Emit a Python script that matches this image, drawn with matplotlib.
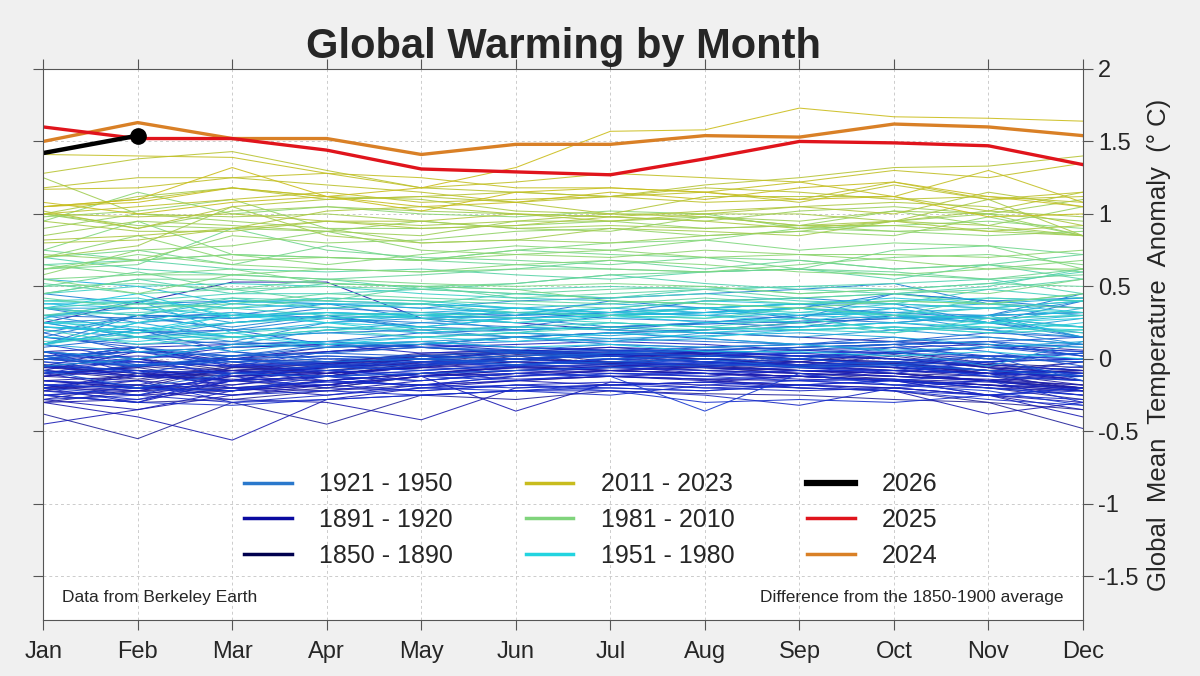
import numpy as np
import matplotlib
matplotlib.use("Agg")
import matplotlib.pyplot as plt
from matplotlib.colors import LinearSegmentedColormap
from matplotlib.lines import Line2D

# ── Data ──────────────────────────────────────────────────────────────────────
MONTHS = ['Jan', 'Feb', 'Mar', 'Apr', 'May', 'Jun',
          'Jul', 'Aug', 'Sep', 'Oct', 'Nov', 'Dec']

# monthly anomalies, hundredths of a degree C vs 1850-1900
YEARS_1850_1890 = list(range(1850, 1891))
ANOM_1850_1890 = [
    [-22, -10, -15, -20, -12, -8, -5, -6, -10, -14, -18, -20],
    [-5, 0, -8, -10, 2, 5, 3, 4, -2, 5, -3, -6],
    [-10, -6, -15, -12, -2, 3, 5, 2, 0, -4, -8, -2],
    [-8, -14, -5, -10, -6, 2, -3, -4, -8, -10, -15, -20],
    [-12, -4, -8, -3, 0, 4, 2, -2, -5, -3, -8, -12],
    [-18, -20, -6, -8, -2, 0, 4, 0, -4, -2, -10, -22],
    [-15, -18, -25, -20, -12, -5, -8, -10, -12, -15, -20, -28],
    [-25, -30, -28, -22, -18, -15, -12, -14, -20, -22, -30, -35],
    [-20, -10, -15, -12, -5, 0, -2, -5, -8, -10, -12, -15],
    [-12, -5, 0, -2, 3, 5, -2, 0, -5, -3, -10, -8],
    [-15, -20, -18, -10, -5, -2, -4, -6, -8, -10, -15, -22],
    [-28, -18, -22, -15, -10, -5, -8, -6, -10, -12, -15, -20],
    [-38, -55, -30, -45, -25, -28, -22, -24, -25, -28, -30, -48],
    [-5, -10, -12, -8, -4, 0, -3, -5, -2, -6, -10, -8],
    [-30, -22, -20, -15, -10, -12, -8, -10, -12, -15, -18, -22],
    [0, -5, -10, -4, 2, 5, 3, 0, -2, 3, -4, -8],
    [5, 0, -6, -3, 4, 6, 2, 3, 0, -2, -5, -10],
    [-8, -12, -15, -4, 2, 0, 3, 5, 2, 0, -6, -15],
    [-22, -15, -8, -5, 0, 5, 8, 4, 0, -3, -8, -12],
    [-5, 8, -4, -2, 2, 0, -3, 0, -4, 2, -6, -10],
    [-4, -8, -12, -6, 0, 4, 2, -2, -4, -6, -10, -18],
    [-20, -18, -6, -4, 0, -2, -3, -5, -8, -10, -15, -18],
    [-15, -12, -10, -6, 0, 2, 4, 2, 0, -2, -4, -8],
    [-6, -10, -8, -12, -4, 0, 2, 0, -2, -4, -10, -8],
    [-5, -12, -14, -15, -10, -6, -8, -10, -12, -14, -16, -20],
    [-18, -25, -22, -18, -12, -10, -8, -10, -12, -15, -18, -25],
    [-12, -15, -20, -18, -10, -6, -4, -8, -10, -12, -15, -20],
    [-10, -5, 0, 5, 10, 15, 18, 20, 25, 28, 30, 32],
    [25, 39, 53, 53, 28, 25, 20, 18, 15, 12, 10, 6],
    [-5, -8, -10, -6, -2, 0, 2, 0, -4, -8, -12, -20],
    [-4, -12, -8, -6, -3, 0, -2, -4, -6, -8, -10, -12],
    [-10, -6, 2, 5, 8, 4, 6, 3, 0, -4, -8, -10],
    [5, 8, -2, -10, -6, -4, 0, -2, -4, -6, -8, -15],
    [-20, -22, -12, -10, -6, -2, -4, -6, -8, -12, -14, -18],
    [-25, -22, -28, -30, -42, -20, -18, -16, -18, -20, -25, -35],
    [-30, -28, -20, -22, -15, -10, -12, -14, -15, -18, -20, -22],
    [-28, -35, -25, -18, -12, -8, -5, -10, -12, -15, -18, -22],
    [-30, -40, -56, -28, -20, -15, -12, -15, -18, -20, -25, -30],
    [-22, -25, -15, -12, -4, 0, 2, -2, -5, -8, -10, -12],
    [-8, 5, 8, 10, 12, 8, 6, 4, 2, 0, -6, -10],
    [-15, -20, -22, -18, -12, -36, -16, -18, -20, -22, -38, -30],
]

YEARS_1891_1920 = list(range(1891, 1921))
ANOM_1891_1920 = [
    [-18, -22, -12, -10, -6, -8, -10, -12, -8, -10, -15, -12],
    [-12, -8, -20, -25, -18, -15, -18, -16, -12, -15, -25, -40],
    [-45, -35, -22, -15, -18, -12, -8, -10, -14, -15, -18, -20],
    [-20, -12, -8, -15, -10, -14, -12, -10, -12, -8, -10, -15],
    [-25, -30, -15, -8, -10, -6, -8, -5, -2, -6, -10, -12],
    [-6, -2, -5, -3, 0, 5, 8, 6, 2, 4, 0, -2],
    [0, 2, 0, 8, 10, 6, 4, 2, 4, 0, -4, -8],
    [5, -10, -18, -12, -15, -10, -6, -8, -10, -12, -15, -10],
    [-10, -20, -15, -5, -4, 0, 2, 4, 6, 8, 10, 2],
    [0, 8, 10, 12, 8, 10, 12, 10, 6, 4, 2, 0],
    [5, 0, 8, 10, 4, 6, 3, 2, 0, -4, -8, -10],
    [2, 5, -5, -8, -12, -10, -12, -14, -12, -15, -20, -25],
    [-10, 0, -12, -20, -22, -18, -16, -20, -22, -20, -25, -28],
    [-28, -25, -30, -28, -25, -22, -22, -25, -32, -20, -15, -22],
    [-20, -30, -10, -12, -10, -8, -6, -8, -6, -10, -2, 0],
    [-8, -12, -15, -5, -8, -4, -6, -2, -6, -8, -10, -2],
    [-22, -28, -15, -18, -22, -18, -20, -22, -18, -15, -25, -20],
    [-18, -15, -30, -25, -20, -22, -18, -20, -18, -22, -25, -22],
    [-25, -20, -25, -22, -25, -22, -25, -18, -15, -18, -15, -30],
    [-15, -18, -20, -16, -18, -20, -18, -16, -20, -22, -28, -32],
    [-25, -30, -32, -28, -25, -22, -20, -22, -18, -15, -10, -12],
    [-10, -8, -15, -12, -20, -18, -22, -30, -28, -30, -25, -20],
    [-18, -20, -22, -15, -18, -12, -10, -10, -8, -8, -2, 0],
    [5, -2, -5, -2, 0, -4, 0, 2, 4, 5, 8, 5],
    [0, 8, -5, 5, 10, 8, 6, 5, 2, 0, -2, 4],
    [0, -2, -10, -8, -12, -15, -10, -12, -15, -14, -20, -25],
    [-18, -20, -22, -12, -15, -10, -12, -36, -10, -18, -22, -32],
    [-20, -25, -10, -12, -8, -5, -4, -3, -5, -4, -12, -5],
    [-5, -8, -10, -5, -8, -4, -2, -3, -6, -5, -12, -15],
    [-2, -5, 0, -4, -2, -5, 0, -2, -4, -2, -8, -10],
]

YEARS_1921_1950 = list(range(1921, 1951))
ANOM_1921_1950 = [
    [10, 0, 5, 0, -2, 0, 4, 2, 0, 8, 2, 4],
    [-2, -10, 0, -5, -2, -4, 0, -6, 0, -4, 2, 0],
    [0, -5, -2, -8, -5, 0, -4, 0, 2, 4, 8, 5],
    [5, -4, 0, -6, -4, 0, 2, -2, 0, -4, -2, -12],
    [-10, -5, 0, 2, 0, 4, 5, 6, 8, 10, 12, 15],
    [22, 18, 20, 10, 8, 5, 2, 6, 8, 10, 12, 2],
    [2, 5, -2, 0, 2, 0, 4, 8, 10, 12, 5, -5],
    [15, 8, 0, 2, 0, -2, 4, 2, 0, 4, 8, 2],
    [-8, -20, -10, -12, -10, -8, -6, -4, -5, -2, 2, -15],
    [0, 5, 2, 4, 2, 5, 6, 8, 10, 12, 18, 15],
    [15, 10, 12, 8, 10, 15, 18, 14, 10, 15, 8, 10],
    [18, 5, 2, 10, 8, 4, 0, 2, 8, 10, 0, 4],
    [0, -4, -2, -2, 0, -4, -2, 0, -6, -4, -8, -12],
    [0, 8, 2, 4, 8, 6, 10, 8, 6, 10, 12, 8],
    [10, 20, 5, -2, 0, 2, 4, 6, 4, 8, 0, -2],
    [2, -5, 2, 8, 10, 12, 14, 12, 10, 12, 15, 10],
    [8, 15, 10, 12, 18, 20, 22, 25, 30, 32, 28, 22],
    [30, 28, 32, 28, 22, 20, 22, 24, 26, 30, 28, 15],
    [22, 20, 15, 18, 20, 22, 20, 25, 22, 30, 25, 40],
    [10, 30, 28, 32, 30, 28, 32, 30, 28, 25, 30, 45],
    [18, 30, 28, 35, 32, 30, 40, 35, 28, 45, 40, 35],
    [35, 25, 30, 28, 30, 32, 28, 26, 25, 28, 30, 32],
    [15, 30, 20, 28, 25, 22, 30, 32, 35, 45, 40, 42],
    [45, 38, 40, 38, 35, 40, 42, 45, 48, 52, 38, 35],
    [35, 30, 30, 38, 28, 30, 32, 40, 42, 38, 25, 15],
    [25, 28, 22, 30, 20, 15, 18, 20, 22, 25, 20, 10],
    [20, 15, 25, 30, 22, 28, 22, 25, 30, 35, 25, 18],
    [30, 20, 12, 25, 28, 20, 22, 18, 20, 22, 20, 15],
    [25, 15, 20, 22, 18, 15, 12, 18, 15, 20, 15, 10],
    [-5, 0, 10, 8, 12, 15, 10, 8, 10, 5, -5, 12],
]

YEARS_1951_1980 = list(range(1951, 1981))
ANOM_1951_1980 = [
    [5, 0, 10, 20, 25, 28, 30, 32, 35, 32, 30, 40],
    [35, 35, 25, 30, 28, 30, 32, 35, 38, 30, 20, 28],
    [30, 35, 40, 40, 38, 35, 32, 35, 38, 38, 35, 40],
    [10, 25, 15, 18, 15, 18, 16, 20, 22, 25, 30, 15],
    [25, 15, 5, 12, 15, 18, 14, 16, 18, 15, 10, 8],
    [10, 5, 8, 12, 10, 15, 12, 14, 10, 6, 8, 12],
    [10, 20, 25, 30, 32, 35, 38, 35, 38, 35, 38, 42],
    [55, 50, 38, 35, 38, 30, 35, 32, 30, 32, 35, 30],
    [35, 30, 40, 38, 35, 32, 30, 35, 30, 28, 25, 30],
    [28, 40, 18, 25, 30, 28, 30, 32, 35, 30, 25, 35],
    [38, 40, 35, 38, 38, 35, 30, 32, 35, 30, 28, 30],
    [38, 35, 30, 32, 30, 35, 32, 30, 35, 28, 30, 32],
    [35, 45, 28, 32, 30, 32, 35, 40, 38, 42, 38, 32],
    [25, 22, 15, 10, 12, 8, 10, 5, 5, 2, 5, 0],
    [15, 12, 18, 10, 15, 12, 18, 15, 20, 22, 18, 25],
    [22, 20, 30, 25, 22, 28, 30, 25, 28, 20, 25, 22],
    [22, 18, 30, 28, 30, 25, 28, 30, 25, 35, 25, 28],
    [10, 25, 32, 25, 18, 22, 20, 18, 22, 25, 22, 20],
    [25, 25, 38, 42, 40, 35, 32, 35, 38, 40, 42, 40],
    [40, 42, 30, 32, 28, 25, 30, 28, 32, 30, 28, 22],
    [28, 15, 15, 20, 22, 18, 25, 22, 20, 18, 25, 22],
    [10, 18, 25, 28, 30, 32, 30, 35, 32, 38, 35, 40],
    [45, 50, 52, 50, 45, 42, 40, 38, 35, 30, 35, 32],
    [12, 15, 18, 22, 20, 22, 25, 22, 20, 22, 18, 20],
    [30, 32, 35, 30, 32, 28, 25, 22, 28, 20, 22, 18],
    [20, 10, 15, 20, 15, 18, 22, 20, 25, 18, 28, 30],
    [35, 40, 45, 45, 48, 45, 42, 45, 40, 38, 48, 42],
    [40, 38, 42, 35, 38, 32, 30, 28, 35, 30, 42, 40],
    [35, 30, 42, 40, 38, 45, 42, 48, 50, 48, 52, 60],
    [45, 55, 45, 52, 50, 48, 50, 48, 50, 52, 55, 45],
]

YEARS_1981_2010 = list(range(1981, 2011))
ANOM_1981_2010 = [
    [70, 62, 58, 55, 48, 52, 58, 52, 48, 45, 50, 62],
    [30, 38, 35, 42, 40, 38, 35, 40, 42, 45, 48, 55],
    [65, 68, 62, 60, 62, 58, 55, 60, 62, 55, 65, 55],
    [52, 45, 48, 40, 50, 42, 45, 48, 42, 45, 38, 35],
    [42, 35, 38, 45, 42, 40, 38, 42, 38, 40, 38, 45],
    [50, 52, 48, 50, 48, 45, 48, 50, 45, 48, 52, 50],
    [50, 60, 48, 55, 58, 62, 68, 62, 68, 62, 65, 72],
    [75, 68, 72, 70, 68, 65, 62, 60, 62, 60, 55, 58],
    [45, 55, 55, 52, 50, 52, 58, 60, 62, 58, 55, 62],
    [62, 65, 90, 75, 70, 68, 65, 70, 62, 75, 78, 72],
    [70, 75, 65, 78, 68, 75, 72, 70, 68, 62, 65, 60],
    [65, 58, 62, 52, 50, 48, 40, 38, 35, 40, 38, 45],
    [55, 58, 58, 55, 52, 50, 52, 50, 45, 48, 45, 55],
    [55, 45, 58, 62, 60, 62, 62, 60, 65, 70, 72, 65],
    [75, 95, 72, 70, 68, 75, 80, 82, 75, 80, 78, 62],
    [62, 72, 65, 62, 60, 65, 68, 65, 60, 58, 62, 68],
    [62, 68, 72, 65, 72, 78, 75, 82, 90, 92, 95, 90],
    [95, 115, 100, 105, 100, 98, 102, 100, 90, 88, 85, 88],
    [70, 85, 68, 70, 68, 72, 75, 70, 72, 72, 70, 75],
    [58, 75, 78, 88, 75, 72, 70, 75, 72, 68, 62, 62],
    [72, 68, 85, 80, 82, 88, 90, 85, 88, 85, 98, 85],
    [98, 102, 110, 90, 90, 92, 95, 90, 92, 88, 90, 85],
    [100, 92, 90, 88, 95, 90, 88, 98, 92, 102, 92, 105],
    [90, 100, 95, 90, 80, 82, 80, 85, 88, 95, 100, 85],
    [100, 90, 102, 105, 102, 100, 98, 95, 102, 105, 100, 95],
    [85, 95, 92, 88, 85, 95, 95, 98, 95, 102, 100, 110],
    [125, 100, 98, 100, 95, 90, 92, 90, 92, 92, 88, 85],
    [70, 78, 105, 85, 80, 82, 90, 88, 85, 95, 92, 85],
    [95, 88, 88, 95, 92, 95, 100, 100, 100, 95, 102, 98],
    [100, 112, 118, 112, 110, 102, 100, 98, 92, 95, 110, 85],
]

YEARS_2011_2023 = list(range(2011, 2024))
ANOM_2011_2023 = [
    [80, 82, 90, 95, 90, 92, 98, 95, 90, 95, 88, 92],
    [82, 85, 90, 102, 105, 100, 95, 100, 105, 108, 105, 92],
    [100, 98, 100, 95, 95, 100, 98, 102, 105, 100, 115, 105],
    [102, 90, 105, 110, 112, 108, 100, 112, 112, 112, 102, 115],
    [105, 110, 118, 110, 112, 115, 112, 120, 125, 132, 133, 140],
    [128, 138, 143, 130, 118, 115, 112, 118, 115, 110, 112, 108],
    [118, 125, 125, 120, 115, 108, 112, 115, 108, 120, 110, 112],
    [100, 105, 110, 115, 108, 110, 112, 108, 110, 122, 110, 115],
    [117, 118, 125, 128, 118, 122, 128, 125, 122, 130, 125, 135],
    [141, 140, 139, 128, 125, 118, 118, 115, 122, 112, 130, 108],
    [108, 100, 108, 112, 105, 108, 115, 110, 118, 122, 112, 105],
    [105, 108, 118, 112, 102, 115, 118, 115, 110, 112, 98, 100],
    [105, 110, 132, 112, 118, 132, 157, 158, 173, 167, 166, 164],
]

ANOM_2024 = [1.50, 1.63, 1.52, 1.52, 1.41, 1.48, 1.48, 1.54, 1.53, 1.62, 1.60, 1.54]
ANOM_2025 = [1.60, 1.52, 1.52, 1.44, 1.31, 1.29, 1.27, 1.38, 1.50, 1.49, 1.47, 1.34]
ANOM_2026 = [1.42, 1.54]

LEGEND_LABELS = ['1921 - 1950', '1891 - 1920', '1850 - 1890',
                 '2011 - 2023', '1981 - 2010', '1951 - 1980',
                 '2026', '2025', '2024']
LEGEND_COLORS = ['#2a78cc', '#0a0aa0', '#00004e',
                 '#c8bc1e', '#80d47c', '#22d4e0',
                 'black', '#e0141c', '#d98026']

# ── Colours by year ───────────────────────────────────────────────────────────
year_nodes = [1850, 1890, 1915, 1940, 1966, 1996, 2023]
node_cols = ['#2a2a92', '#1a1ab2', '#1632d0', '#1c72d2', '#22cce0', '#84d87c', '#cbbd1c']
cmap = LinearSegmentedColormap.from_list(
    'years', list(zip([(y - 1850) / (2023 - 1850) for y in year_nodes], node_cols)))

groups = [(YEARS_1850_1890, ANOM_1850_1890), (YEARS_1891_1920, ANOM_1891_1920),
          (YEARS_1921_1950, ANOM_1921_1950), (YEARS_1951_1980, ANOM_1951_1980),
          (YEARS_1981_2010, ANOM_1981_2010), (YEARS_2011_2023, ANOM_2011_2023)]

# ── Plot ──────────────────────────────────────────────────────────────────────
plt.rcParams['font.family'] = ['Liberation Sans', 'DejaVu Sans']
fig = plt.figure(figsize=(12, 6.76), dpi=100, facecolor='#f0f0f0')
ax = fig.add_axes([0.036, 0.083, 0.8665, 0.815], facecolor='white')

x = np.arange(12)
for years, rows in groups:
    for yr, row in zip(years, rows):
        ax.plot(x, np.array(row) / 100.0, color=cmap((yr - 1850) / (2023 - 1850)),
                lw=0.75, alpha=0.9)

ax.plot(x, ANOM_2024, color='#d98026', lw=2.4)
ax.plot(x, ANOM_2025, color='#e0141c', lw=2.4)
ax.plot(x[:len(ANOM_2026)], ANOM_2026, color='black', lw=3.2)
ax.plot(x[len(ANOM_2026) - 1], ANOM_2026[-1], 'o', color='black', ms=11)

ax.set_xlim(0, 11)
ax.set_ylim(-1.8, 2.0)
ax.set_xticks(x)
ax.set_xticklabels(MONTHS)
ax.set_yticks([-1.5, -1, -0.5, 0, 0.5, 1, 1.5, 2])
ax.set_yticklabels(['-1.5', '-1', '-0.5', '0', '0.5', '1', '1.5', '2'])
ax.yaxis.tick_right()
ax.yaxis.set_label_position('right')
ax.tick_params(axis='both', which='both', direction='out', length=7, width=0.8,
               color='#555555', labelsize=17, labelcolor='#262626',
               top=True, bottom=True, left=True, right=True,
               labelleft=False, labelright=True)
ax.tick_params(axis='x', pad=8)
ax.tick_params(axis='y', pad=4)
for spine in ax.spines.values():
    spine.set_edgecolor('#555555')
    spine.set_linewidth(0.8)

ax.grid(True, color='#cccccc', linestyle=(0, (3, 3)), lw=0.7)
ax.set_axisbelow(True)

ax.set_ylabel('Global  Mean  Temperature  Anomaly  (\u00b0 C)',
              fontsize=18.5, color='#262626', rotation=90, labelpad=6)
ax.set_title('Global Warming by Month', fontsize=30, fontweight='bold',
             color='#262626', pad=8)

ax.text(0.018, 0.04, 'Data from Berkeley Earth', transform=ax.transAxes,
        fontsize=12.5, color='#262626', ha='left', va='center')
ax.text(0.981, 0.04, 'Difference from the 1850-1900 average', transform=ax.transAxes,
        fontsize=12.5, color='#262626', ha='right', va='center')

handles = [Line2D([], [], color=c, lw=(4.5 if lab == '2026' else 2.5))
           for c, lab in zip(LEGEND_COLORS, LEGEND_LABELS)]
ax.legend(handles, LEGEND_LABELS, ncol=3, frameon=False, fontsize=18,
          loc='center', bbox_to_anchor=(0.527, 0.181),
          handlelength=1.9, handletextpad=1.1, columnspacing=2.9,
          labelspacing=0.47, labelcolor='#262626')

fig.savefig('out.png', dpi=100, facecolor=fig.get_facecolor())
